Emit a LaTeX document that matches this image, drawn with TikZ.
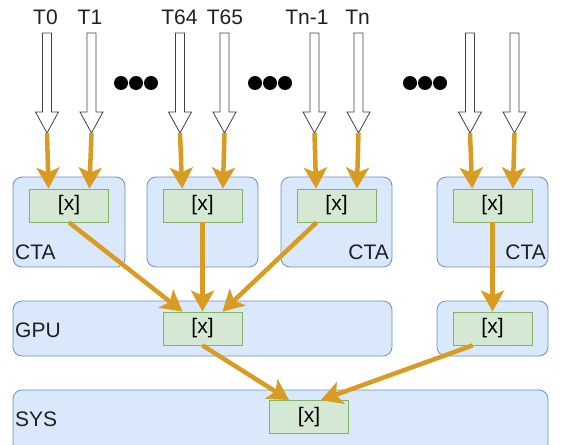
\documentclass[tikz,border=0pt]{standalone}
\usepackage{fontspec}
\setmainfont{Liberation Sans}
\usetikzlibrary{arrows.meta}

\definecolor{scopefill}{HTML}{DAE8FC}
\definecolor{scopeline}{HTML}{6C8EBF}
\definecolor{accfill}{HTML}{D5E8D4}
\definecolor{accline}{HTML}{82B366}
\definecolor{flow}{HTML}{D89C22}

\tikzset{
  scopebox/.style={draw=scopeline, fill=scopefill, rounded corners=9pt, line width=0.8pt},
  accbox/.style={draw=accline, fill=accfill, line width=0.8pt, minimum width=79pt,
    minimum height=33pt, inner sep=0pt},
  thread/.style={draw=black!75, fill=white, line width=0.8pt},
  flowarrow/.style={draw=flow, line width=4.5pt, -{Stealth[length=21pt,width=23pt,inset=5pt]}},
  lbl/.style={inner sep=0pt, text=black!88},
}

\begin{document}
\begin{tikzpicture}[x=1pt, y=-1pt, font=\fontsize{21}{25}\selectfont]
\useasboundingbox (0,0) rectangle (561,444);

% threads:
\foreach \x [count=\i] in {47,91.5,180,224.5,314.5,358.5,470,514.5} {
  \draw[thread] (\x-4.5,33) -- (\x+4.5,33) -- (\x+4.5,112) -- (\x+11.5,112)
    -- (\x,133) coordinate (t\i) -- (\x-11.5,112) -- (\x-4.5,112) -- cycle;
}
\foreach \x/\t [count=\i] in {45.5/T0, 90/T1, 179.5/T64, 225/T65, 307/Tn-1, 357.5/Tn} {
  \node[lbl, anchor=base] (tl\i) at (\x,25) {\t};
}

% dots
\foreach \x in {121,255,410} {
  \fill (\x,83) circle (7) (\x+15,83) circle (7) (\x+30,83) circle (7);
}

% CTA tier:
\draw[scopebox] (13,177) rectangle (125,267);
\draw[scopebox] (147,177) rectangle (258,267);
\draw[scopebox] (281,177) rectangle (392,267);
\draw[scopebox] (437,177) rectangle (548,267);
\node[lbl, anchor=base west] (cta1) at (15,259) {CTA};
\node[lbl, anchor=base east] (cta3) at (389,259) {CTA};
\node[lbl, anchor=base east] (cta4) at (546,259) {CTA};

\node[accbox] (c1) at (69,205.5) {[x]};
\node[accbox] (c2) at (202.5,205.5) {[x]};
\node[accbox] (c3) at (336.5,205.5) {[x]};
\node[accbox] (c4) at (492.5,205.5) {[x]};

% GPU tier:
\draw[scopebox] (13,301) rectangle (392,356);
\draw[scopebox] (437,301) rectangle (548,356);
\node[lbl, anchor=base west] (gpu) at (15,337) {GPU};

\node[accbox] (g1) at (202.5,328.5) {[x]};
\node[accbox] (g2) at (492.5,328.5) {[x]};

% SYS tier:
\draw[scopebox] (13,390) rectangle (548,452);
\node[lbl, anchor=base west] (sys) at (15,426) {SYS};

\node[accbox] (s1) at (309,417) {[x]};

% flows
\draw[flowarrow] (t1) -- ([xshift=19.5pt]c1.north west);
\draw[flowarrow] (t2) -- ([xshift=-19.5pt]c1.north east);
\draw[flowarrow] (t3) -- ([xshift=19.5pt]c2.north west);
\draw[flowarrow] (t4) -- ([xshift=-19.5pt]c2.north east);
\draw[flowarrow] (t5) -- ([xshift=19.5pt]c3.north west);
\draw[flowarrow] (t6) -- ([xshift=-19.5pt]c3.north east);
\draw[flowarrow] (t7) -- ([xshift=19.5pt]c4.north west);
\draw[flowarrow] (t8) -- ([xshift=-19.5pt]c4.north east);

\draw[flowarrow] (c1.south) -- ([xshift=20pt]g1.north west);
\draw[flowarrow] (c2.south) -- (g1.north);
\draw[flowarrow] ([xshift=20pt]c3.south west) -- ([xshift=-20pt]g1.north east);
\draw[flowarrow] (c4.south) -- (g2.north);

\draw[flowarrow] (g1.south) -- ([xshift=20pt]s1.north west);
\draw[flowarrow] ([xshift=20pt]g2.south west) -- ([xshift=-28pt]s1.north east);

\end{tikzpicture}
\end{document}
